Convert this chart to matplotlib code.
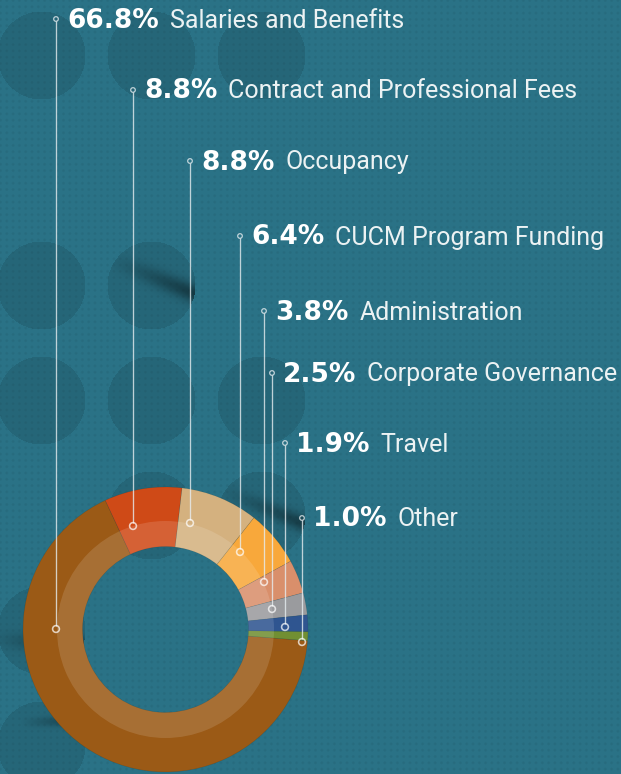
import numpy as np
import matplotlib
matplotlib.use("Agg")
import matplotlib.pyplot as plt
from matplotlib.patches import Circle, Wedge

# ---------------- data ----------------
categories = ["Salaries and Benefits", "Contract and Professional Fees", "Occupancy",
              "CUCM Program Funding", "Administration", "Corporate Governance",
              "Travel", "Other"]
shares = [66.8, 8.8, 8.8, 6.4, 3.8, 2.5, 1.9, 1.0]
pct_labels = ["66.8%", "8.8%", "8.8%", "6.4%", "3.8%", "2.5%", "1.9%", "1.0%"]
colors = ["#9b5a16", "#cf4a17", "#d4b17f", "#f8a83b", "#d98f6b", "#9a9b9e", "#2f5590", "#718f33"]

# ---------------- layout (pixel positions, image coords) ----------------
W, H = 621, 774
label_marker_x = [56, 133, 190, 240, 264, 272, 285, 302]
label_marker_y = [19, 90, 161, 236, 311, 373, 443, 518]
anchor_y = [629, 526, 523, 552, 582, 609, 627, 642]
cx, cy_img = 165.5, 629.5
R_out, R_in, R_band = 142.5, 83.0, 108.5

fig = plt.figure(figsize=(W / 100, H / 100), dpi=100)
ax = fig.add_axes([0, 0, 1, 1])
ax.set_xlim(0, W)
ax.set_ylim(0, H)
ax.axis("off")

def Y(y):
    return H - y

# ---------------- background texture ----------------
yy, xx = np.mgrid[0:H, 0:W].astype(float)
base = np.array([42, 114, 134]) / 255.0
img = np.ones((H, W, 3)) * base
pat = np.cos(2 * np.pi * (xx + yy) / 12.6) * np.cos(2 * np.pi * (xx - yy) / 12.6)
img *= (1 - 0.06 * np.clip(pat - 0.3, 0, None) / 0.7)[..., None]
circ_centers = [(41, 55), (151, 55), (261, 55), (41, 285), (151, 285),
                (41, 400), (151, 400), (261, 400), (151, 515), (261, 515),
                (41, 630), (41, 745)]
for (ccx, ccy) in circ_centers:
    m = (xx - ccx) ** 2 + (yy - ccy) ** 2 < 44 ** 2
    img[m] *= 0.9
# soft shadow streaks inside some circles
streaks = [((151, 285), (108, 258), (196, 294), 9, 0.45),
           ((261, 515), (218, 488), (300, 522), 8, 0.4),
           ((41, 630), (-10, 638), (70, 645), 9, 0.4),
           ((41, 745), (20, 722), (90, 720), 5, 0.45)]
for (cc, p0, p1, wdt, strength) in streaks:
    p0 = np.array(p0, float); p1 = np.array(p1, float)
    d = p1 - p0; L = np.hypot(*d); u = d / L
    rx, ry = xx - p0[0], yy - p0[1]
    t = np.clip((rx * u[0] + ry * u[1]) / L, 0, 1)
    dist = np.abs(rx * (-u[1]) + ry * u[0])
    f = np.exp(-(dist / wdt) ** 2) * t
    m = ((xx - cc[0]) ** 2 + (yy - cc[1]) ** 2 < 44 ** 2)
    img *= (1 - strength * f * m)[..., None]
ax.imshow(img, extent=(0, W, 0, H), origin="upper", zorder=0, interpolation="bilinear")

# ---------------- donut ----------------
start = 115 + shares[0] / 100 * 360 - 360
ax.pie(shares, colors=colors, startangle=start, counterclock=False,
       radius=R_out, center=(cx, Y(cy_img)), frame=True,
       wedgeprops=dict(width=R_out - R_in, linewidth=0.4, edgecolor=(0, 0, 0, 0.12)))
ax.add_patch(Wedge((cx, Y(cy_img)), R_band, 0, 360, width=R_band - R_in,
                   facecolor="white", alpha=0.13, linewidth=0, zorder=3))
ax.set_xlim(0, W)
ax.set_ylim(0, H)
ax.set_aspect("equal")
ax.axis("off")

# ---------------- leaders & labels ----------------
line_col = (0.9, 0.93, 0.94, 0.8)
fig.canvas.draw()
renderer = fig.canvas.get_renderer()
for i in range(len(categories)):
    mx, my = label_marker_x[i], label_marker_y[i]
    ay = anchor_y[i]
    ax.plot([mx, mx], [Y(my + 2.2), Y(ay - 3.3)], color=line_col, lw=0.95,
            solid_capstyle="butt", zorder=5)
    ax.add_patch(Circle((mx, Y(my)), 2.3, facecolor="none", edgecolor=line_col,
                        lw=0.9, zorder=6))
    ax.add_patch(Circle((mx, Y(ay)), 3.4, facecolor="none",
                        edgecolor=(1, 1, 1, 0.72), lw=1.15, zorder=6))
    base_y = Y(my + 8.5)
    t = ax.text(mx + 11, base_y, pct_labels[i], fontsize=19, fontweight="bold",
                family="DejaVu Sans", color="white", va="baseline", ha="left", zorder=7)
    bb = t.get_window_extent(renderer=renderer)
    x_end = ax.transData.inverted().transform((bb.x1, bb.y0))[0]
    ax.text(x_end + 11, base_y, categories[i], fontsize=18, fontweight="normal",
            family="Roboto", color="#ecf2f3", va="baseline", ha="left", zorder=7)

fig.savefig("out.png", dpi=100)
